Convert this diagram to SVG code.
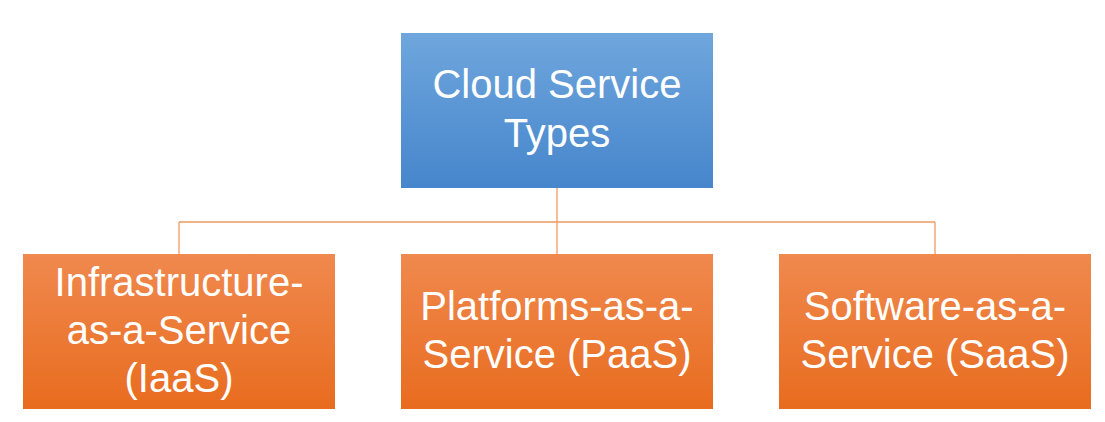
<svg xmlns="http://www.w3.org/2000/svg" width="1105" height="422" viewBox="0 0 1105 422">
<defs>
<linearGradient id="gBlue" x1="0" y1="0" x2="0" y2="1">
<stop offset="0" stop-color="#6fa6dd"/>
<stop offset="1" stop-color="#4686cc"/>
</linearGradient>
<linearGradient id="gOrange" x1="0" y1="0" x2="0" y2="1">
<stop offset="0" stop-color="#f0894e"/>
<stop offset="1" stop-color="#e86c1f"/>
</linearGradient>
<style>
.box-top{fill:url(#gBlue);}
.box{fill:url(#gOrange);}
.lbl{font-family:"Liberation Sans",Arial,sans-serif;font-size:40px;fill:#ffffff;text-anchor:middle;}
.conn{fill:none;stroke:#f09a62;stroke-width:1.3;}
</style>
</defs>
<rect width="1105" height="422" fill="#ffffff"/>
<g id="connectors">
<path class="conn" d="M557 188 V222 M179 222 H935 M179 222 V254 M557 222 V254 M935 222 V254"/>
</g>
<g id="node-root">
<rect class="box-top" x="401" y="33" width="312" height="155"/>
<text class="lbl" x="557" y="98">Cloud Service</text>
<text class="lbl" x="557" y="147">Types</text>
</g>
<g id="node-iaas">
<rect class="box" x="23" y="254" width="312" height="155"/>
<text class="lbl" x="179" y="296">Infrastructure-</text>
<text class="lbl" x="179" y="344">as-a-Service</text>
<text class="lbl" x="179" y="392">(IaaS)</text>
</g>
<g id="node-paas">
<rect class="box" x="401" y="254" width="312" height="155"/>
<text class="lbl" x="557" y="320">Platforms-as-a-</text>
<text class="lbl" x="557" y="368">Service (PaaS)</text>
</g>
<g id="node-saas">
<rect class="box" x="779" y="254" width="312" height="155"/>
<text class="lbl" x="935" y="320">Software-as-a-</text>
<text class="lbl" x="935" y="368">Service (SaaS)</text>
</g>
</svg>
